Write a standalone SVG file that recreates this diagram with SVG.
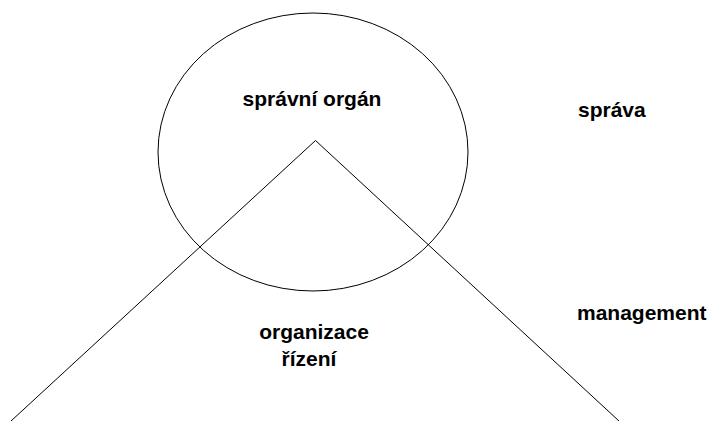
<svg xmlns="http://www.w3.org/2000/svg" width="710" height="421" viewBox="0 0 710 421">
<style>
.t{font-family:"Liberation Sans",Arial,sans-serif;font-size:21px;font-weight:bold;fill:#000}
.s{fill:none;stroke:#000;stroke-width:1}
</style>
<rect width="710" height="421" fill="#fff"/>
<g id="organ">
<ellipse class="s" cx="313" cy="152" rx="155" ry="139"/>
<text class="t" x="312" y="106" text-anchor="middle">správní orgán</text>
</g>
<g id="connectors">
<polyline class="s" points="11,421 315.5,140.5 619,421"/>
</g>
<g id="organizace">
<text class="t" x="314" y="339" text-anchor="middle">organizace</text>
<text class="t" x="309" y="366" text-anchor="middle">řízení</text>
</g>
<g id="sprava"><text class="t" x="578" y="117">správa</text></g>
<g id="management"><text class="t" x="577" y="320">management</text></g>
</svg>
